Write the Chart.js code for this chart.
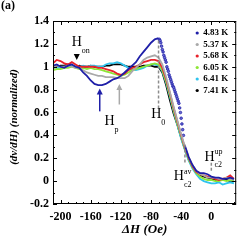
<!DOCTYPE html>
<html>
<head>
<meta charset="utf-8">
<script src="https://cdn.jsdelivr.net/npm/chart.js@4.4.1/dist/chart.umd.min.js"></script>
<style>
  html, body { margin: 0; padding: 0; background: #fff; }
  canvas { display: block; }
</style>
</head>
<body>
<canvas id="chart_dxdh" width="241" height="240"></canvas>
<script>
// field offset grid (Oe) shared by all curves
const fieldOe = [-210,-205,-200,-195,-190,-185,-180,-175,-170,-165,-160,-155,-150,-145,-140,-135,-130,-125,-120,-115,-110,-105,-100,-95,-90,-85,-80,-75,-70,-65,-60,-55,-50,-45,-40,-35,-30,-25,-20,-15,-10,-5,0,5,10,15,20,25,30];

const temps = ['4.83 K', '5.37 K', '5.68 K', '6.05 K', '6.41 K', '7.41 K'];

const t483 = [1.01,1.02,1.00,0.99,1.01,1.02,1.00,0.99,0.95,0.92,0.88,0.85,0.84,0.84,0.85,0.87,0.89,0.90,0.92,0.95,0.98,1.01,1.04,1.09,1.13,1.17,1.21,1.24,1.25,null,null,null,null,null,null,0.31,0.21,0.14,0.09,0.07,0.07,0.06,0.04,0.03,0.03,0.02,0.02,0.03,0.02];
const t537 = [1.00,1.01,1.00,1.00,1.01,1.00,0.99,0.99,0.97,0.95,0.94,0.93,0.92,0.92,0.91,0.91,0.91,0.90,0.90,0.90,0.92,0.96,0.99,1.02,1.06,1.08,1.09,1.10,1.08,1.02,0.91,0.78,0.65,0.53,0.41,0.30,0.21,0.14,0.09,0.06,0.05,0.03,0.03,0.03,0.02,0.02,0.03,0.02,0.01];
const t568 = [1.03,1.06,1.05,1.03,1.02,1.04,1.02,1.00,1.00,1.00,1.00,1.00,0.99,0.99,0.98,0.97,0.96,0.94,0.93,0.94,0.97,0.99,1.00,1.02,1.04,1.05,1.06,1.06,1.05,0.99,0.89,0.77,0.64,0.52,0.40,0.29,0.20,0.13,0.08,0.06,0.05,0.04,0.03,0.02,0.01,0.02,0.03,0.05,0.02];
const t605 = [0.97,0.98,0.98,0.99,0.99,1.00,0.99,0.98,0.99,0.98,0.99,0.98,0.98,0.97,0.96,0.95,0.94,0.93,0.92,0.93,0.95,0.97,0.98,0.99,1.00,1.01,1.02,1.03,1.02,0.97,0.87,0.75,0.62,0.50,0.39,0.28,0.19,0.12,0.07,0.04,0.02,0.01,0.01,0.00,0.00,0.01,0.00,0.01,0.00];
const t641 = [1.00,0.99,0.99,1.00,1.00,1.01,1.00,1.00,1.01,1.00,1.01,1.01,1.00,1.00,1.02,1.03,1.03,1.04,1.03,1.01,0.99,0.98,0.97,0.98,0.99,1.01,1.02,1.02,1.01,0.96,0.86,0.74,0.61,0.49,0.37,0.27,0.18,0.11,0.06,0.02,0.00,-0.01,-0.02,-0.02,-0.01,-0.03,-0.02,-0.01,-0.02];
const t741 = [0.99,1.00,1.01,1.01,1.02,1.01,1.00,1.01,1.00,1.00,1.01,1.00,1.00,1.00,1.01,1.01,1.02,1.02,1.02,1.01,1.00,1.00,1.00,1.00,1.01,1.01,1.01,1.00,1.00,0.95,0.84,0.71,0.59,0.49,0.38,0.28,0.19,0.12,0.08,0.05,0.04,0.03,0.02,0.01,0.02,0.01,0.01,0.00,0.00];

// 4.83 K drop past the peak, drawn as dots in the original
const blueDotField = [-69,-68,-67,-66,-65,-64,-63,-62,-61,-60,-59,-58,-57,-56,-55,-54,-53,-52,-51,-50,-49,-48,-47,-46,-45,-44,-43,-42,-41,-40,-39,-38,-37];
const blueDotValues = [1.24,1.23,1.21,1.18,1.15,1.13,1.10,1.08,1.06,1.04,1.00,0.98,0.96,0.93,0.91,0.89,0.87,0.85,0.83,0.82,0.80,0.78,0.76,0.74,0.72,0.70,0.68,0.64,0.60,0.55,0.50,0.45,0.40];

const xTicks = [-200, -160, -120, -80, -40, 0];
const yTicks = [-0.2, 0, 0.2, 0.4, 0.6, 0.8, 1, 1.2, 1.4];

const colors = ['#1f1fa8', '#a9a9a9', '#e8222a', '#8ee636', '#2fc4ee', '#000000'];
const series = [t483, t537, t568, t605, t641, t741];

const serif = "'Liberation Serif', 'DejaVu Serif', serif";

function toPoints(xs, ys){
    return xs.map((v, i) => ({x: v, y: ys[i]}));
}

let datasets = series.map((vals, i) => ({
    label: temps[i],
    data: toPoints(fieldOe, vals),
    borderColor: colors[i],
    backgroundColor: colors[i],
    borderWidth: 1.8,
    pointRadius: 0,
    showLine: true,
    spanGaps: false
}));

datasets.push({
    label: '4.83 K drop',
    data: toPoints(blueDotField, blueDotValues),
    borderColor: colors[0],
    backgroundColor: '#6a6ad0',
    pointRadius: 1.3,
    pointBorderWidth: 0.8,
    showLine: false
});

// frame, inward ticks, legend and field labels
const decorations = {
    id: 'decorations',
    afterDraw(chart){
        const ctx = chart.ctx;
        const a = chart.chartArea;
        const sx = chart.scales.x, sy = chart.scales.y;
        const px = v => sx.getPixelForValue(v);
        const py = v => sy.getPixelForValue(v);

        ctx.save();
        ctx.strokeStyle = '#000';
        ctx.lineWidth = 1;
        ctx.strokeRect(a.left + 0.5, a.top + 0.5, a.right - a.left - 1, a.bottom - a.top - 1);

        ctx.beginPath();
        for(let v = -210; v <= 30; v += 10){
            const x = Math.round(px(v)) + 0.5;
            const len = (v % 40 === 0) ? 4 : 2;
            ctx.moveTo(x, a.bottom); ctx.lineTo(x, a.bottom - len);
            ctx.moveTo(x, a.top); ctx.lineTo(x, a.top + len);
        }
        for(let k = -2; k <= 14; k++){
            const y = Math.round(py(k / 10)) + 0.5;
            const len = (k % 2 === 0) ? 4 : 2;
            ctx.moveTo(a.left, y); ctx.lineTo(a.left + len, y);
            ctx.moveTo(a.right, y); ctx.lineTo(a.right - len, y);
        }
        ctx.stroke();

        // legend
        ctx.font = 'bold 9px ' + serif;
        ctx.textBaseline = 'middle';
        ctx.textAlign = 'left';
        temps.forEach((t, i) => {
            const y = a.top + 12 + i * 11.5;
            ctx.fillStyle = colors[i];
            ctx.beginPath();
            ctx.arc(a.right - 39, y, 1.6, 0, Math.PI * 2);
            ctx.fill();
            ctx.fillStyle = '#000';
            ctx.fillText(t, a.right - 33, y);
        });

        // dashed guide lines
        ctx.strokeStyle = '#8c8c8c';
        ctx.lineWidth = 1.5;
        ctx.setLineDash([3, 2]);
        ctx.beginPath();
        ctx.moveTo(px(-70), py(1.23)); ctx.lineTo(px(-70), py(0.64));
        ctx.moveTo(px(-35), py(0.32)); ctx.lineTo(px(-35), py(0.16));
        ctx.moveTo(px(0), py(0.16)); ctx.lineTo(px(0), py(0.08));
        ctx.stroke();
        ctx.setLineDash([]);

        // arrows
        function arrow(xv, y0, y1, color){
            const x = px(xv), ya = py(y0), yb = py(y1);
            ctx.strokeStyle = color;
            ctx.fillStyle = color;
            ctx.lineWidth = 1.5;
            ctx.beginPath();
            ctx.moveTo(x, ya); ctx.lineTo(x, yb + 4);
            ctx.stroke();
            ctx.beginPath();
            ctx.moveTo(x, yb); ctx.lineTo(x - 3, yb + 6); ctx.lineTo(x + 3, yb + 6);
            ctx.closePath();
            ctx.fill();
        }
        arrow(-148, 0.61, 0.81, colors[0]);
        arrow(-122, 0.67, 0.85, colors[1]);

        // onset marker
        ctx.fillStyle = '#000';
        const tx = px(-178.5), ty = py(1.085);
        ctx.beginPath();
        ctx.moveTo(tx - 3, ty - 3); ctx.lineTo(tx + 3, ty - 3); ctx.lineTo(tx, ty + 3);
        ctx.closePath();
        ctx.fill();

        function fieldLabel(xv, yv, sup, sub){
            const x = px(xv), y = py(yv);
            ctx.fillStyle = '#000';
            ctx.textBaseline = 'middle';
            ctx.textAlign = 'center';
            ctx.font = '14px ' + serif;
            ctx.fillText('H', x, y);
            ctx.textAlign = 'left';
            ctx.font = '8px ' + serif;
            if(sup) ctx.fillText(sup, x + 5, y - 5);
            if(sub) ctx.fillText(sub, x + 5, y + 8);
        }
        fieldLabel(-178.5, 1.21, null, 'on');
        fieldLabel(-135, 0.52, null, 'p');
        fieldLabel(-73, 0.58, null, '0');
        fieldLabel(-43, 0.04, 'av', 'c2');
        fieldLabel(-2.4, 0.21, 'up', 'c2');

        // panel tag and axis titles
        ctx.font = 'bold 12px ' + serif;
        ctx.textAlign = 'left';
        ctx.fillText('(a)', 1, 6);

        ctx.font = 'italic bold 13px ' + serif;
        ctx.textAlign = 'center';
        ctx.fillText('\u0394H (Oe)', (a.left + a.right) / 2, 230);

        ctx.translate(14, 117);
        ctx.rotate(-Math.PI / 2);
        ctx.font = 'italic bold 11px ' + serif;
        ctx.fillText('(dv/dH) (normalized)', 0, 0);
        ctx.restore();
    }
};

new Chart(document.getElementById('chart_dxdh'), {
    type: 'scatter',
    data: { datasets: datasets },
    options: {
        responsive: false,
        animation: false,
        devicePixelRatio: 1,
        layout: { padding: { top: 21, right: 3, left: 0, bottom: 0 } },
        plugins: { legend: { display: false }, tooltip: { enabled: false } },
        scales: {
            x: {
                type: 'linear',
                min: -210,
                max: 33,
                grid: { display: false, drawTicks: false },
                border: { display: false },
                afterBuildTicks: s => { s.ticks = xTicks.map(v => ({ value: v })); },
                afterFit: s => { s.height = 36; },
                ticks: {
                    color: '#000',
                    padding: 6,
                    maxRotation: 0,
                    autoSkip: false,
                    font: { family: serif, size: 12, weight: 'bold' },
                    callback: v => String(v)
                }
            },
            y: {
                type: 'linear',
                min: -0.2,
                max: 1.4,
                grid: { display: false, drawTicks: false },
                border: { display: false },
                afterBuildTicks: s => { s.ticks = yTicks.map(v => ({ value: v })); },
                afterFit: s => { s.width = 53; },
                ticks: {
                    color: '#000',
                    padding: 4,
                    autoSkip: false,
                    font: { family: serif, size: 12, weight: 'bold' },
                    callback: v => String(Number(v.toFixed(1)))
                }
            }
        }
    },
    plugins: [decorations]
});
</script>
</body>
</html>
